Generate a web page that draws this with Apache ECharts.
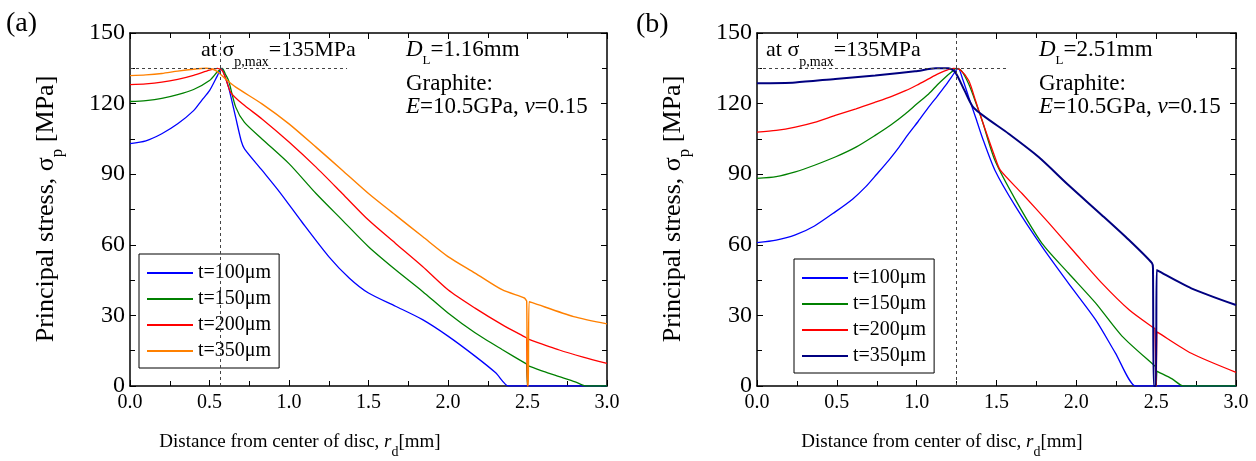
<!doctype html>
<html lang="en">
<head>
<meta charset="UTF-8">
<title>Principal stress vs distance from disc centre</title>
<style>
  html, body { margin: 0; padding: 0; background: #fff; }
  #chart { width: 1256px; height: 461px; }
</style>
</head>
<body>
<div id="chart"></div>
<script src="https://cdn.jsdelivr.net/npm/echarts@6/dist/echarts.min.js"></script>
<script>
// legend labels
var labels = ['t=100μm', 't=150μm', 't=200μm', 't=350μm'];

// (a) D_L = 1.16mm : [r_d (mm), sigma_p (MPa)]
var a100 = [[0,103],[0.1,104.2],[0.2,107.2],[0.3,111.4],[0.4,117],[0.45,121.3],[0.5,125.5],[0.55,131.9],[0.575,135],[0.6,131],[0.62,127],[0.665,114],[0.7,104],[0.72,100.8],[0.83,91.7],[0.94,82.5],[1.08,69.8],[1.25,55],[1.38,45.8],[1.5,39.5],[1.67,33.9],[1.84,28.2],[2.0,21.2],[2.17,12.7],[2.3,5.6],[2.38,0],[2.4,0],[3.0,0]];
var a150 = [[0,120.9],[0.1,121.3],[0.2,122.2],[0.3,123.8],[0.4,126],[0.5,129.8],[0.55,133.5],[0.58,135],[0.6,132.5],[0.62,129.8],[0.665,118.5],[0.72,112],[0.83,105],[1.0,94.5],[1.17,81.8],[1.335,70.5],[1.5,59.2],[1.67,49.4],[1.84,40.2],[2.0,31],[2.17,22.6],[2.34,15.5],[2.49,9.5],[2.495,9.3],[2.5,0],[2.505,8.6],[2.51,8.4],[2.6,6.2],[2.7,4],[2.8,1.8],[2.87,0],[2.89,0],[3.0,0]];
var a200 = [[0,128.1],[0.1,128.4],[0.2,129.1],[0.3,130.3],[0.4,132],[0.5,134.2],[0.55,135],[0.58,134],[0.6,131],[0.633,124.8],[0.707,119.9],[0.83,113.5],[1.0,103.7],[1.17,93],[1.335,81.8],[1.5,70.5],[1.67,60.6],[1.84,50.8],[2.0,40.9],[2.17,33.1],[2.34,26.1],[2.49,20.6],[2.495,20.4],[2.5,0],[2.505,20],[2.51,19.8],[2.7,15.3],[2.85,12.3],[3.0,9.6]];
var a350 = [[0,131.9],[0.1,132.2],[0.2,132.8],[0.3,133.8],[0.4,134.6],[0.48,135],[0.54,134],[0.6,130.5],[0.665,127],[0.83,119.9],[1.0,111.4],[1.17,101.5],[1.335,91.7],[1.5,81.8],[1.67,72.6],[1.84,63.5],[2.0,55],[2.17,48],[2.34,40.9],[2.48,37.4],[2.49,36.6],[2.495,36],[2.5,0],[2.505,0],[2.51,35.8],[2.53,35.4],[2.79,29.5],[3.0,26.4]];

// (b) D_L = 2.51mm
var b100 = [[0,60.9],[0.12,62],[0.24,64.2],[0.36,68],[0.49,74],[0.6,79.5],[0.68,84.6],[0.75,90],[0.825,95.9],[0.89,101.5],[0.95,107.2],[1.01,112.5],[1.075,118.5],[1.13,123.2],[1.18,127.6],[1.22,131.5],[1.26,135],[1.29,130],[1.326,122.7],[1.37,114],[1.41,105.8],[1.49,91.7],[1.62,76.2],[1.785,59.2],[1.95,43.7],[2.12,28.2],[2.244,14.1],[2.37,0],[2.39,0],[3.0,0]];
var b150 = [[0,88.2],[0.12,89],[0.24,91],[0.36,93.8],[0.49,97.3],[0.62,101.5],[0.74,106.5],[0.84,111],[0.93,115.7],[1.0,119.8],[1.075,124.1],[1.13,128],[1.18,131.2],[1.22,133.5],[1.25,135],[1.28,134],[1.326,128.3],[1.37,120.5],[1.41,112.8],[1.49,95.9],[1.62,79],[1.785,60.6],[1.95,48],[2.12,35.3],[2.286,21.2],[2.49,8.6],[2.495,8.4],[2.5,0],[2.505,6.3],[2.51,6.1],[2.6,3],[2.67,0],[2.69,0],[3.0,0]];
var b200 = [[0,107.9],[0.12,108.6],[0.24,110],[0.36,112],[0.49,115],[0.62,117.8],[0.74,120.6],[0.84,123],[0.93,125.5],[1.0,127.8],[1.075,130.5],[1.13,132.5],[1.18,134],[1.23,135],[1.27,134.5],[1.326,129.8],[1.37,121],[1.41,112.8],[1.49,97.3],[1.524,91.7],[1.66,81.8],[1.83,69.1],[1.994,56.4],[2.16,43.7],[2.33,32.4],[2.484,24.7],[2.492,24.5],[2.5,0],[2.505,23],[2.51,22.8],[2.72,13.9],[3.0,5.8]];
var b350 = [[0,128.6],[0.24,129],[0.49,130.5],[0.74,131.9],[0.99,133.7],[1.12,135],[1.2,135],[1.242,133.3],[1.3,125.5],[1.36,118],[1.576,107.2],[1.764,97.3],[1.952,85.3],[2.16,72.6],[2.33,62],[2.474,52.2],[2.48,50],[2.485,0],[2.498,0],[2.503,49.3],[2.51,49],[2.72,41.5],[3.0,34.4]];

// dashed guide: peak stress and load radius (D_L/2)
var peak = 135;
var guideA = { r: 0.575, hEnd: 1.365 };
var guideB = { r: 1.255, hEnd: 1.564 };

var SERIF = '"Liberation Serif", "Times New Roman", serif';

var chart = echarts.init(document.getElementById('chart'));

function xAx(grid, pos) {
    return {
        type: 'value', gridIndex: grid, position: pos,
        min: 0, max: 3, interval: 0.5,
        axisLine: { onZero: false, lineStyle: { color: '#000', width: 1.5 } },
        axisTick: { inside: true, length: 6, lineStyle: { color: '#000' } },
        minorTick: { show: true, splitNumber: 2, length: 5, lineStyle: { color: '#000' } },
        splitLine: { show: false },
        axisLabel: {
            show: pos === 'bottom', margin: 7, color: '#000',
            fontFamily: SERIF, fontSize: 20,
            formatter: function (v) { return v.toFixed(1); }
        }
    };
}
function yAx(grid, pos) {
    return {
        type: 'value', gridIndex: grid, position: pos,
        min: 0, max: 150, interval: 30,
        axisLine: { onZero: false, lineStyle: { color: '#000', width: 1.5 } },
        axisTick: { inside: true, length: 6, lineStyle: { color: '#000' } },
        minorTick: { show: true, splitNumber: 2, length: 5, lineStyle: { color: '#000' } },
        splitLine: { show: false },
        axisLabel: { show: pos === 'left', margin: 5, color: '#000', fontFamily: SERIF, fontSize: 24 }
    };
}

function line(name, data, color, width, idx) {
    return {
        type: 'line', name: name, data: data,
        xAxisIndex: idx, yAxisIndex: idx,
        symbol: 'none', silent: true,
        smooth: 0.25,
        itemStyle: { color: color },
        lineStyle: { color: color, width: width }
    };
}

function guides(g) {
    return {
        silent: true, symbol: 'none',
        label: { show: false },
        lineStyle: { type: [3, 3], color: '#444', width: 1 },
        data: [
            [{ coord: [0, peak] }, { coord: [g.hEnd, peak] }],
            { xAxis: g.r }
        ]
    };
}

function legend(prefix, left, top) {
    return {
        left: left, top: top, orient: 'vertical',
        itemWidth: 46, itemHeight: 14, itemGap: 6,
        padding: [9, 8, 7, 7],
        borderColor: '#000', borderWidth: 1, backgroundColor: '#fff',
        selectedMode: false,
        itemStyle: { opacity: 0 },
        data: labels.map(function (l) { return prefix + l; }),
        formatter: function (n) { return n.slice(prefix.length); },
        textStyle: { fontFamily: SERIF, fontSize: 20, lineHeight: 20, color: '#000' }
    };
}

function rich(subSize, subLH, mainSize) {
    return {
        n: { fontFamily: SERIF, fontSize: mainSize, color: '#000' },
        i: { fontFamily: SERIF, fontSize: mainSize, fontStyle: 'italic', color: '#000' },
        s: { fontFamily: SERIF, fontSize: subSize, lineHeight: subLH, verticalAlign: 'bottom', color: '#000' }
    };
}
function txt(x, y, text, r, align, rot) {
    return {
        type: 'text', x: x, y: y, rotation: rot || 0, z: 100,
        style: {
            text: text, rich: r,
            align: align, verticalAlign: 'middle',
            textAlign: align, textVerticalAlign: 'middle'
        }
    };
}

var yTitle = '{n|Principal stress, σ}{s|p}{n| [MPa]}';
var xTitle = '{n|Distance from center of disc, }{i|r}{s|d}{n|[mm]}';
var atPeak = '{n|at σ}{s|p,max}{n|=135MPa}';

var graphic = [
    txt(6, 24, '{n|(a)}', rich(14, 14, 28), 'left'),
    txt(636, 25, '{n|(b)}', rich(14, 14, 28), 'left'),
    txt(46, 209, yTitle, rich(17, 40, 26), 'center', Math.PI / 2),
    txt(673, 209, yTitle, rich(17, 40, 26), 'center', Math.PI / 2),
    txt(300, 442, xTitle, rich(14, 34, 19), 'center'),
    txt(942, 442, xTitle, rich(14, 34, 19), 'center'),
    txt(201, 50, atPeak, rich(14, 38, 22), 'left'),
    txt(766, 50, atPeak, rich(14, 38, 22), 'left'),
    txt(406, 50, '{i|D}{s|L}{n|=1.16mm}', rich(13, 34, 23), 'left'),
    txt(406, 84, '{n|Graphite:}', rich(13, 23, 23), 'left'),
    txt(406, 107, '{i|E}{n|=10.5GPa, }{i|ν}{n|=0.15}', rich(13, 23, 23), 'left'),
    txt(1039, 50, '{i|D}{s|L}{n|=2.51mm}', rich(13, 34, 23), 'left'),
    txt(1039, 84, '{n|Graphite:}', rich(13, 23, 23), 'left'),
    txt(1039, 107, '{i|E}{n|=10.5GPa, }{i|ν}{n|=0.15}', rich(13, 23, 23), 'left')
];

var seriesA = [
    line('a:' + labels[0], a100, '#0000ff', 1.3, 0),
    line('a:' + labels[1], a150, '#008000', 1.3, 0),
    line('a:' + labels[2], a200, '#ff0000', 1.3, 0),
    line('a:' + labels[3], a350, '#ff8000', 1.4, 0)
];
seriesA[0].markLine = guides(guideA);
var seriesB = [
    line('b:' + labels[0], b100, '#0000ff', 1.3, 2),
    line('b:' + labels[1], b150, '#008000', 1.3, 2),
    line('b:' + labels[2], b200, '#ff0000', 1.3, 2),
    line('b:' + labels[3], b350, '#000080', 2, 2)
];
seriesB[0].markLine = guides(guideB);

var option = {
    animation: false,
    backgroundColor: '#fff',
    grid: [
        { left: 130, right: 649, top: 33, bottom: 75 },
        { left: 757, right: 20, top: 33, bottom: 75 }
    ],
    xAxis: [xAx(0, 'bottom'), xAx(0, 'top'), xAx(1, 'bottom'), xAx(1, 'top')],
    yAxis: [yAx(0, 'left'), yAx(0, 'right'), yAx(1, 'left'), yAx(1, 'right')],
    legend: [legend('a:', 139, 254), legend('b:', 794, 259)],
    graphic: graphic,
    series: seriesA.concat(seriesB)
};
chart.setOption(option);
</script>
</body>
</html>
